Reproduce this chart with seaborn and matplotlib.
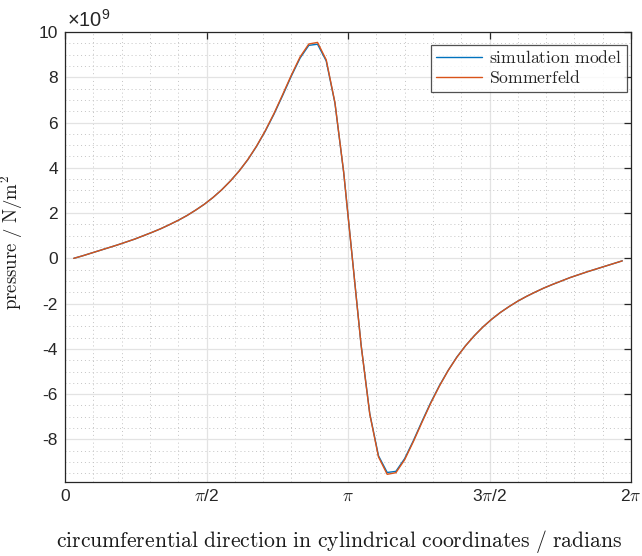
import numpy as np
import pandas as pd
import matplotlib
matplotlib.use("Agg")
import matplotlib.pyplot as plt
import seaborn as sns
from matplotlib.ticker import FixedLocator, MultipleLocator

sns.set_theme(style="white")
plt.rcParams["font.family"] = ["Liberation Sans", "DejaVu Sans"]
plt.rcParams["mathtext.fontset"] = "cm"
plt.rcParams["mathtext.rm"] = "Liberation Sans"
plt.rcParams["mathtext.it"] = "Liberation Sans:italic"
plt.rcParams["mathtext.bf"] = "Liberation Sans:bold"

# ---- data (pressure in units of 1e9 N/m^2) ----
theta = np.arange(1, 65) * 2 * np.pi / 65

sommerfeld = [0.00, 0.11, 0.23, 0.35, 0.47, 0.59, 0.72, 0.85, 1.00, 1.15,
              1.31, 1.49, 1.68, 1.89, 2.13, 2.39, 2.69, 3.03, 3.42, 3.86,
              4.37, 4.96, 5.64, 6.40, 7.24, 8.10, 8.90, 9.47, 9.54, 8.77,
              6.88, 3.82, 0.00, -3.82, -6.88, -8.77, -9.54, -9.47, -8.90, -8.10,
              -7.24, -6.40, -5.64, -4.96, -4.37, -3.86, -3.42, -3.03, -2.69, -2.39,
              -2.13, -1.89, -1.68, -1.49, -1.31, -1.15, -1.00, -0.85, -0.72, -0.59,
              -0.47, -0.35, -0.23, -0.11]

simulation = [0.00, 0.11, 0.23, 0.35, 0.47, 0.59, 0.72, 0.85, 1.00, 1.15,
              1.31, 1.49, 1.68, 1.89, 2.13, 2.39, 2.69, 3.03, 3.42, 3.86,
              4.36, 4.95, 5.62, 6.37, 7.20, 8.06, 8.85, 9.41, 9.46, 8.72,
              6.86, 3.81, 0.00, -3.81, -6.86, -8.72, -9.46, -9.41, -8.85, -8.06,
              -7.20, -6.37, -5.62, -4.95, -4.36, -3.86, -3.42, -3.03, -2.69, -2.39,
              -2.13, -1.89, -1.68, -1.49, -1.31, -1.15, -1.00, -0.85, -0.72, -0.59,
              -0.47, -0.35, -0.23, -0.11]

series_names = ["simulation model", "Sommerfeld"]
series_labels = [r"$\mathrm{simulation\ model}$", r"$\mathrm{Sommerfeld}$"]
colors = {"simulation model": "#0072BD", "Sommerfeld": "#D95319"}

xtick_vals = [0, np.pi / 2, np.pi, 3 * np.pi / 2, 2 * np.pi]
xtick_labels = ["0", r"$\pi$/2", r"$\pi$", r"3$\pi$/2", r"2$\pi$"]
ytick_vals = [-8, -6, -4, -2, 0, 2, 4, 6, 8, 10]

df = pd.DataFrame({
    "theta": np.concatenate([theta, theta]),
    "p": simulation + sommerfeld,
    "series": [series_names[0]] * len(theta) + [series_names[1]] * len(theta),
})

fig = plt.figure(figsize=(6.42, 5.56), dpi=100)
ax = fig.add_axes([65 / 642, 1 - 482 / 556, 566 / 642, 450 / 556])

sns.lineplot(data=df, x="theta", y="p", hue="series", palette=colors,
             estimator=None, sort=False, linewidth=1.0, ax=ax)

ax.set_xlim(0, 2 * np.pi)
ax.set_ylim(-9.88, 10)

ax.xaxis.set_major_locator(FixedLocator(xtick_vals))
ax.set_xticklabels(xtick_labels)
ax.xaxis.set_minor_locator(MultipleLocator(np.pi / 10))
ax.yaxis.set_major_locator(FixedLocator(ytick_vals))
ax.set_yticklabels([str(v) for v in ytick_vals])
ax.yaxis.set_minor_locator(MultipleLocator(0.5))

ax.tick_params(which="major", direction="in", length=5, width=0.9, color="0.15",
               top=True, right=True, labelsize=12.5, pad=5, labelcolor="0.15")
ax.tick_params(which="minor", length=0, top=True, right=True)

ax.grid(which="major", color="#e3e3e3", linewidth=0.9, linestyle="-")
ax.grid(which="minor", color="#c4c4c4", linewidth=0.7, linestyle=(0, (1, 3)))
ax.set_axisbelow(True)

for s in ax.spines.values():
    s.set_color("0.15")
    s.set_linewidth(0.9)

ax.set_xlabel(r"$\mathrm{circumferential\ direction\ in\ cylindrical\ coordinates\ /\ radians}$",
              fontsize=15.6, labelpad=17, color="0.1")
ax.xaxis.label.set_x(0.485)
ax.set_ylabel(r"$\mathrm{pressure\ /\ N/m^2}$", fontsize=13.5, color="0.1")
ax.yaxis.set_label_coords(-0.07, 0.532)

ax.text(0.004, 1.003, r"$\times10^{9}$", transform=ax.transAxes, ha="left", va="bottom",
        fontsize=14.5, math_fontfamily="custom", color="0.15")

handles, _ = ax.get_legend_handles_labels()
leg = ax.legend(handles[:2], series_labels, loc="upper right",
                bbox_to_anchor=(0.993, 0.971), borderaxespad=0, frameon=True,
                fancybox=False, edgecolor="0.15", fontsize=12.7, handlelength=2.6,
                handletextpad=0.4, borderpad=0.3, labelspacing=0.15)
leg.get_frame().set_linewidth(0.9)

fig.savefig("out.png", dpi=100)
